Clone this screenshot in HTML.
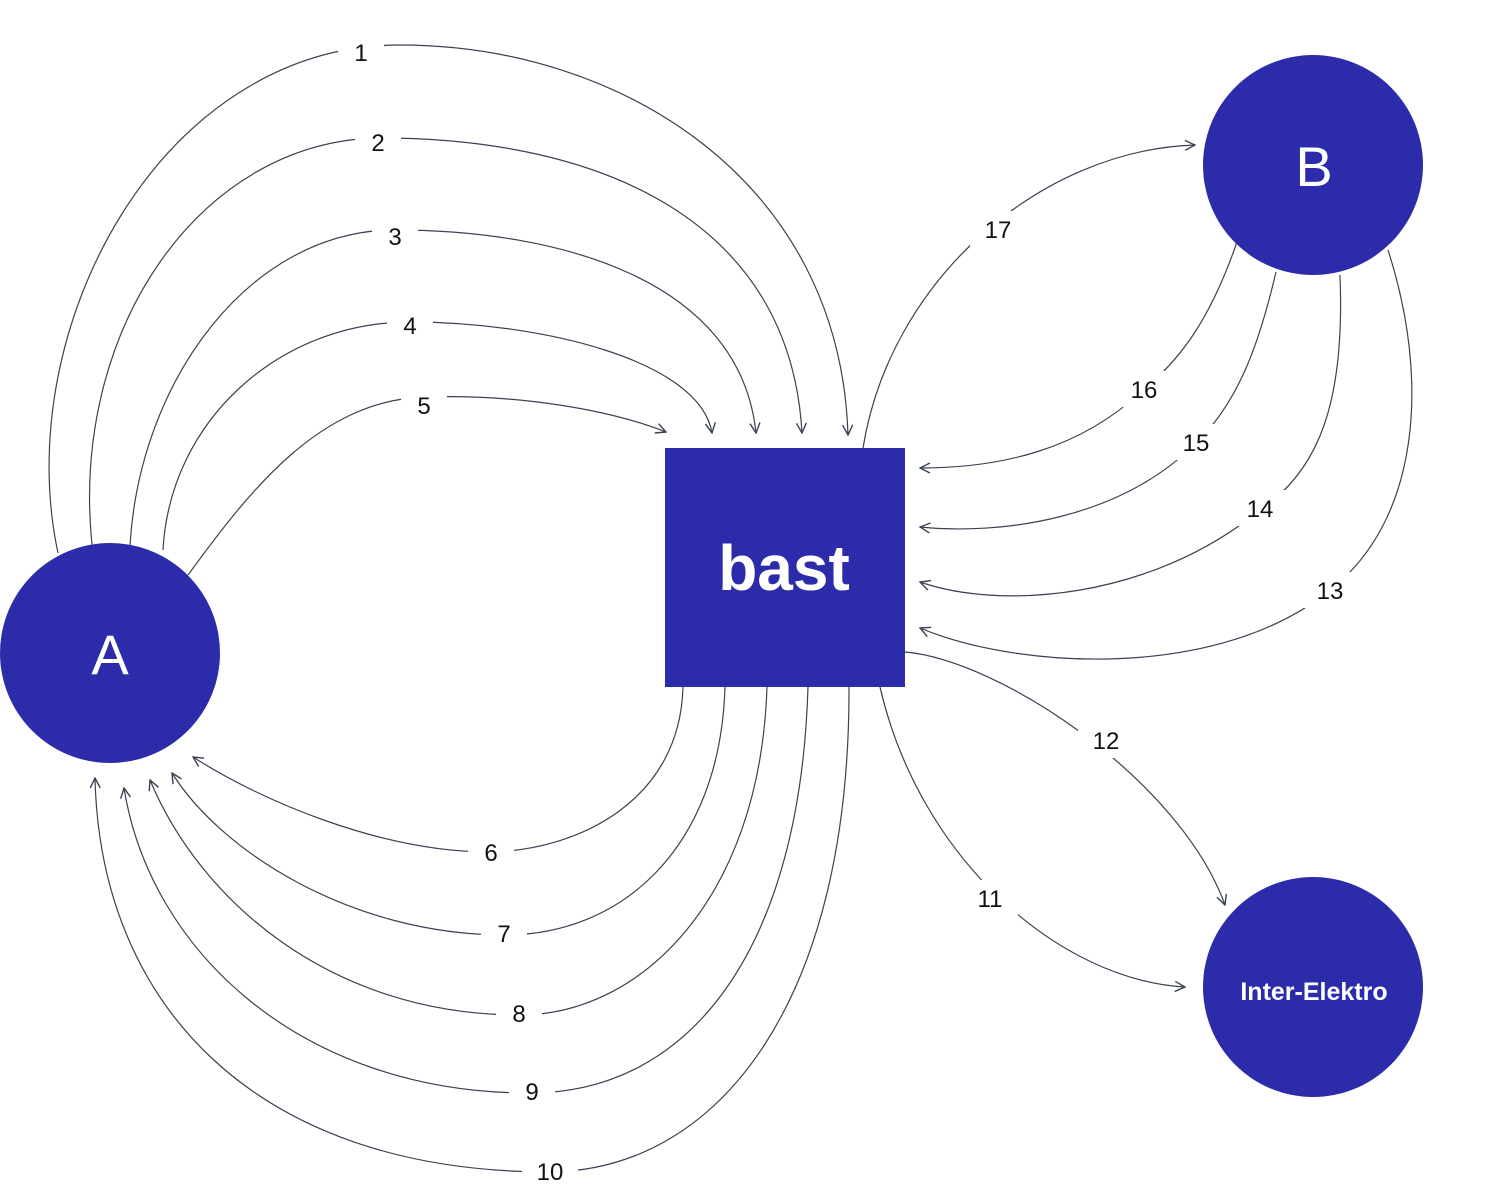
<!DOCTYPE html>
<html><head><meta charset="utf-8"><style>
html,body{margin:0;padding:0;background:#fff}
svg{display:block}
text{font-family:"Liberation Sans",sans-serif}
</style></head><body>
<svg width="1500" height="1192" viewBox="0 0 1500 1192" xmlns="http://www.w3.org/2000/svg">
<defs>
<marker id="a" viewBox="0 0 12 12" refX="11" refY="6" markerWidth="12" markerHeight="12" markerUnits="userSpaceOnUse" orient="auto">
<path d="M1,1 L11,6 L1,11" fill="none" stroke="#3a4250" stroke-width="1.4"/>
</marker>
</defs>
<g fill="none" stroke="#3a4250" stroke-width="1.2" marker-end="url(#a)">
<path d="M58,553 C10,330 160,45 400,45 C620,45 840,180 848,435"/>
<path d="M92,545 C70,330 200,140 380,138 C600,138 790,220 802,433"/>
<path d="M130,545 C140,380 250,230 395,230 C560,230 740,280 756,433"/>
<path d="M163,550 C170,420 280,322 410,322 C540,322 700,360 712,433"/>
<path d="M188,575 C250,490 320,400 425,397 C520,394 610,410 666,432"/>
<path d="M683,687 C680,800 580,850 490,852 C380,852 260,800 193,757"/>
<path d="M725,687 C720,850 620,935 505,935 C350,935 220,850 172,773"/>
<path d="M767,687 C760,900 640,1015 520,1015 C330,1015 200,900 150,780"/>
<path d="M808,687 C800,950 690,1093 530,1093 C300,1093 150,950 124,788"/>
<path d="M849,687 C850,1000 720,1170 550,1172 C250,1172 100,1000 95,778"/>
<path d="M880,687 C920,860 1060,980 1185,987"/>
<path d="M905,652 C1000,660 1180,780 1225,905"/>
<path d="M1388,250 C1430,380 1420,520 1330,590 C1220,680 1020,670 920,628"/>
<path d="M1340,275 C1345,400 1320,470 1260,510 C1150,600 1000,610 920,582"/>
<path d="M1276,272 C1260,340 1240,400 1197,442 C1120,520 1000,535 920,527"/>
<path d="M1237,242 C1210,320 1180,360 1143,390 C1080,450 1000,468 920,468"/>
<path d="M863,448 C890,280 1040,150 1195,145"/>
</g>
<g font-size="24" fill="#111" text-anchor="middle">
<g fill="#fff">
<rect x="338" y="32" width="46" height="36"/><rect x="355" y="124" width="46" height="36"/>
<rect x="372" y="218" width="46" height="36"/><rect x="387" y="308" width="46" height="36"/>
<rect x="401" y="388" width="46" height="36"/><rect x="468" y="836" width="46" height="36"/>
<rect x="481" y="916" width="46" height="36"/><rect x="496" y="996" width="46" height="36"/>
<rect x="509" y="1073" width="46" height="36"/><rect x="522" y="1152" width="56" height="36"/>
<rect x="962" y="880" width="56" height="36"/><rect x="1078" y="722" width="56" height="36"/>
<rect x="1302" y="572" width="56" height="36"/><rect x="1232" y="490" width="56" height="36"/>
<rect x="1168" y="424" width="56" height="36"/><rect x="1116" y="371" width="56" height="36"/>
<rect x="970" y="211" width="56" height="36"/>
</g>
<text x="361" y="61">1</text><text x="378" y="151">2</text><text x="395" y="245">3</text>
<text x="410" y="334">4</text><text x="424" y="414">5</text><text x="491" y="861">6</text>
<text x="504" y="942">7</text><text x="519" y="1022">8</text><text x="532" y="1100">9</text>
<text x="550" y="1180">10</text><text x="990" y="907">11</text><text x="1106" y="749">12</text>
<text x="1330" y="599">13</text><text x="1260" y="517">14</text><text x="1196" y="451">15</text>
<text x="1144" y="398">16</text><text x="998" y="238">17</text>
</g>
<circle cx="110" cy="653" r="110" fill="#2c2cab"/>
<circle cx="1313" cy="165" r="110" fill="#2c2cab"/>
<circle cx="1313" cy="987" r="110" fill="#2c2cab"/>
<rect x="665" y="448" width="240" height="239" fill="#2c2cab"/>
<g fill="#fff" text-anchor="middle">
<text x="110" y="674" font-size="56">A</text>
<text x="1314" y="186" font-size="56">B</text>
<text x="1314" y="1000" font-size="25" font-weight="bold">Inter-Elektro</text>
<text x="784" y="590" font-size="64" font-weight="bold">bast</text>
</g>
</svg>
</body></html>
